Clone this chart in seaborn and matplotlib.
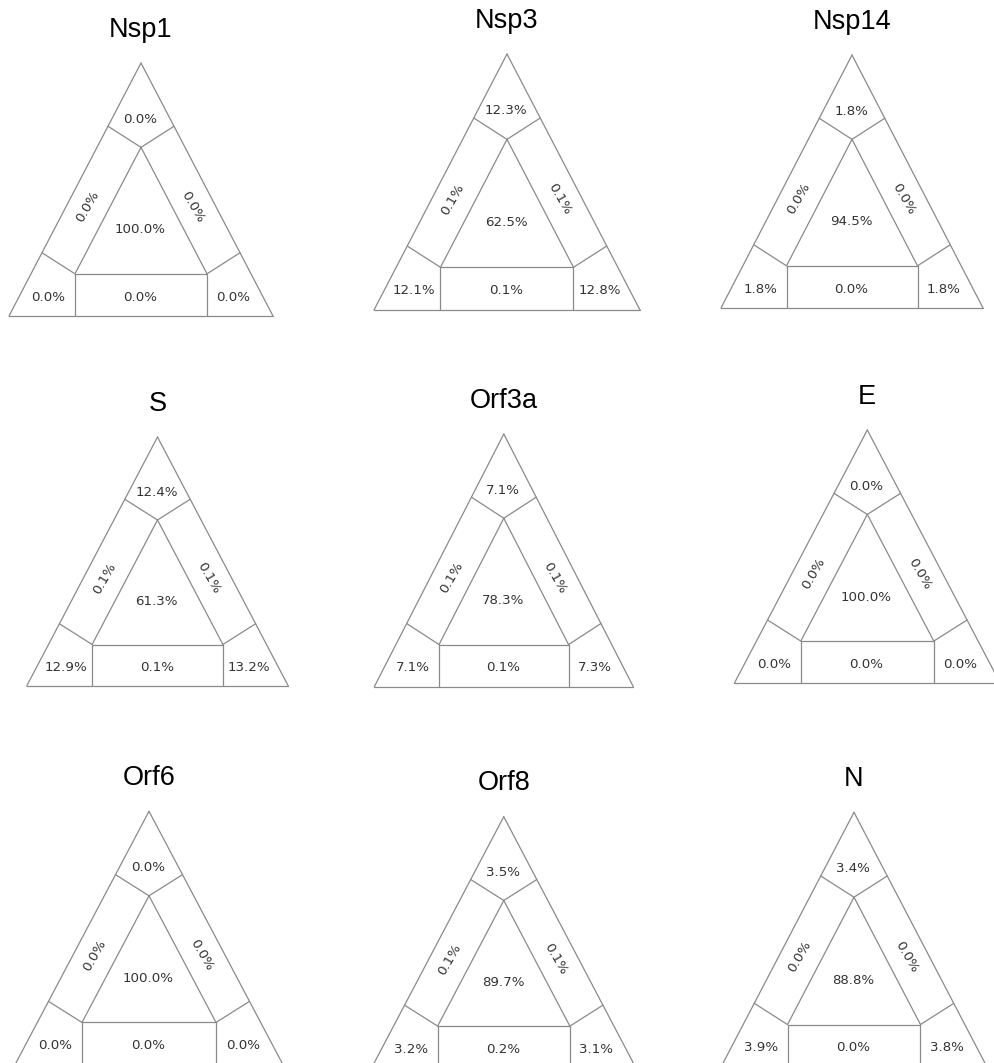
import numpy as np
import pandas as pd
import matplotlib
matplotlib.use("Agg")
import matplotlib.pyplot as plt
import seaborn as sns

# Region shares (%) per protein:
# top corner, left corner, right corner, left edge, right edge, bottom edge, centre
proteins = ["Nsp1", "Nsp3", "Nsp14", "S", "Orf3a", "E", "Orf6", "Orf8", "N"]
top_corner = [0.0, 12.3, 1.8, 12.4, 7.1, 0.0, 0.0, 3.5, 3.4]
left_corner = [0.0, 12.1, 1.8, 12.9, 7.1, 0.0, 0.0, 3.2, 3.9]
right_corner = [0.0, 12.8, 1.8, 13.2, 7.3, 0.0, 0.0, 3.1, 3.8]
left_edge = [0.0, 0.1, 0.0, 0.1, 0.1, 0.0, 0.0, 0.1, 0.0]
right_edge = [0.0, 0.1, 0.0, 0.1, 0.1, 0.0, 0.0, 0.1, 0.0]
bottom_edge = [0.0, 0.1, 0.0, 0.1, 0.1, 0.0, 0.0, 0.2, 0.0]
centre = [100.0, 62.5, 94.5, 61.3, 78.3, 100.0, 100.0, 89.7, 88.8]

# Panel placement in pixels: left x, right x, apex y, base y
layout = [
    (9, 273, 63, 316),
    (374, 640, 54, 310),
    (721, 983, 55, 308),
    (26.7, 288.3, 437, 686),
    (374.3, 633.3, 434, 686.7),
    (734.3, 1000.3, 430, 683.3),
    (15, 283, 811.3, 1064.7),
    (371.5, 636, 816.7, 1068),
    (721, 987, 812.3, 1067),
]

W, H = 995, 1063
sns.set_theme(style="white")
plt.rcParams["font.family"] = ["DejaVu Sans"]

fig = plt.figure(figsize=(W / 100, H / 100), dpi=100)
fig.patch.set_facecolor("white")

h = np.sqrt(3) / 2
A = np.array([0.0, 0.0])      # bottom-left
B = np.array([1.0, 0.0])      # bottom-right
C = np.array([0.5, h])        # apex
G = (A + B + C) / 3
a, b, c = G + 0.5 * (A - G), G + 0.5 * (B - G), G + 0.5 * (C - G)


def foot(p, q0, q1):
    d = (q1 - q0) / np.linalg.norm(q1 - q0)
    return q0 + np.dot(p - q0, d) * d


segments = [
    (A, B), (B, C), (C, A),            # outer triangle
    (a, b), (b, c), (c, a),            # inner triangle
    (a, foot(a, A, B)), (a, foot(a, A, C)),
    (b, foot(b, A, B)), (b, foot(b, B, C)),
    (c, foot(c, A, C)), (c, foot(c, B, C)),
]
rows = []
for k, (p, q) in enumerate(segments):
    rows.append({"x": p[0], "y": p[1], "seg": k})
    rows.append({"x": q[0], "y": q[1], "seg": k})
seg_df = pd.DataFrame(rows)

# label anchor points (fractions of width / height) and rotations
anchors = {
    "top": (0.497, 0.778, 0),
    "left": (0.150, 0.075, 0),
    "right": (0.850, 0.075, 0),
    "ledge": (0.297, 0.432, 60),
    "redge": (0.697, 0.432, -60),
    "bottom": (0.497, 0.075, 0),
    "centre": (0.497, 0.340, 0),
}

line_col = "#8a8a8a"
text_col = "#333333"

for i, name in enumerate(proteins):
    x0, x1, ya, yb = layout[i]
    ax = fig.add_axes([x0 / W, (H - yb) / H, (x1 - x0) / W, (yb - ya) / H])
    ax.set_xlim(0, 1)
    ax.set_ylim(0, h)
    ax.set_axis_off()
    sns.lineplot(data=seg_df, x="x", y="y", units="seg", estimator=None,
                 sort=False, color=line_col, linewidth=0.9, ax=ax,
                 legend=False)
    for ln in ax.lines:
        ln.set_clip_on(False)
    vals = {
        "top": top_corner[i], "left": left_corner[i], "right": right_corner[i],
        "ledge": left_edge[i], "redge": right_edge[i],
        "bottom": bottom_edge[i], "centre": centre[i],
    }
    for key, (u, v, rot) in anchors.items():
        ax.text(u, v * h, f"{vals[key]:.1f}%", ha="center", va="center",
                rotation=rot, rotation_mode="anchor", fontsize=9.6,
                color=text_col, clip_on=False)
    ax.annotate(name, xy=(0.5, h), xytext=(0, 24), textcoords="offset points",
                ha="center", va="center", fontsize=19.5, color="black",
                family=["Liberation Sans", "DejaVu Sans"],
                annotation_clip=False)

fig.savefig("out.png", dpi=100, facecolor="white")
